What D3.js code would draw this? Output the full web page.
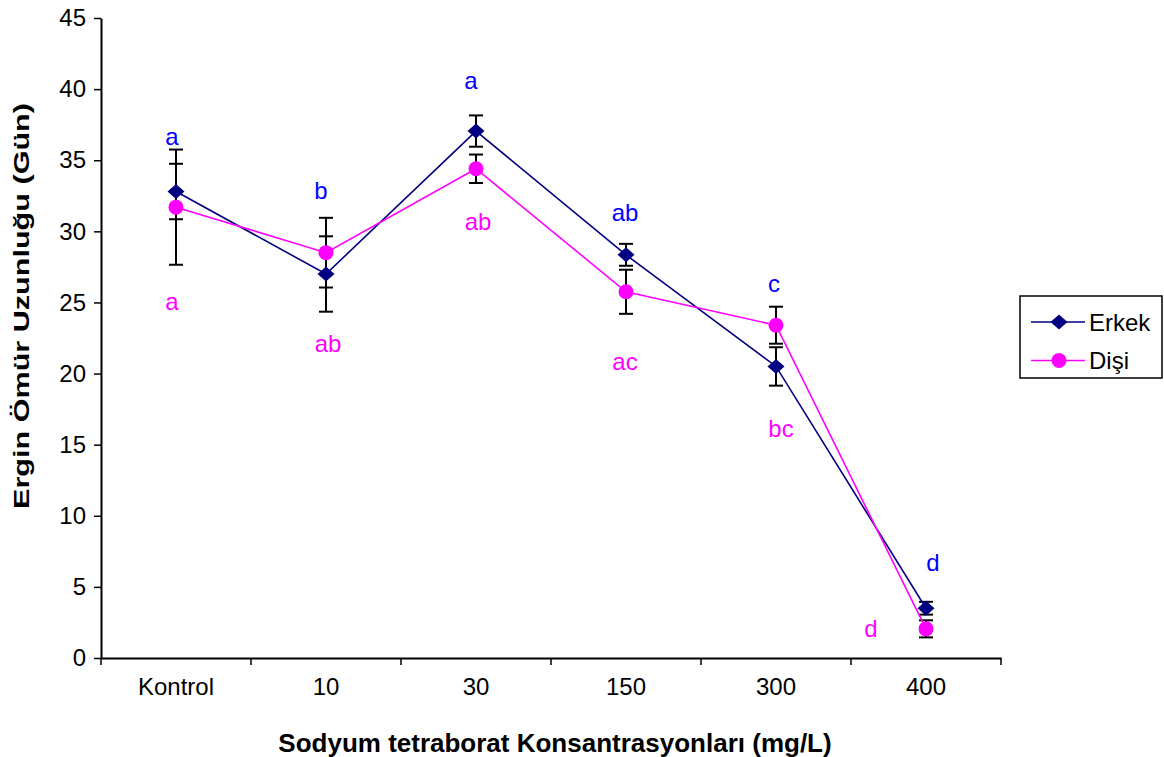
<!DOCTYPE html>
<html>
<head>
<meta charset="utf-8">
<script src="https://cdn.jsdelivr.net/npm/d3@7/dist/d3.min.js"></script>
<style>
  html, body { margin: 0; padding: 0; background: #fff; }
  svg { display: block; font-family: "Liberation Sans", Arial, sans-serif; }
</style>
</head>
<body>
<svg id="chart" width="1164" height="757"></svg>
<script>
// Adult lifespan (days) by sodium tetraborate concentration
const categories = ["Kontrol", "10", "30", "150", "300", "400"];
const erkekMean = [32.8, 27.0, 37.05, 28.35, 20.5, 3.5];
const erkekErr  = [1.95, 2.65, 1.1, 0.77, 1.35, 0.45];
const disiMean  = [31.7, 28.5, 34.4, 25.75, 23.4, 2.05];
const disiErr   = [4.05, 2.45, 1.0, 1.55, 1.3, 0.6];
const yTicks = [0, 5, 10, 15, 20, 25, 30, 35, 40, 45];

// Significance letters for each group
const erkekLetters = ["a", "b", "a", "ab", "c", "d"];
const disiLetters  = ["a", "ab", "ab", "ac", "bc", "d"];

// Letter placement (baseline in axis units, horizontal nudge in px)
const erkekLetterAt = [36.1, 32.3, 40.0, 30.75, 25.7, 6.15];
const erkekLetterDx = [-4, -5, -5, -1, -2, 7];
const disiLetterAt  = [24.45, 21.55, 30.1, 20.25, 15.55, 1.5];
const disiLetterDx  = [-4, 2, 2, -1, 5, -55];

const C_ERKEK = "#000080", C_DISI = "#FF00FF", C_LETTER_E = "#0000FF";

const svg = d3.select("#chart");
svg.append("rect").attr("width", 1164).attr("height", 757).attr("fill", "#fff");

const x = d3.scaleBand().domain(categories).range([101, 1001]);
const y = d3.scaleLinear().domain([0, 45]).range([658, 18]);
const cx = c => x(c) + x.bandwidth() / 2;

// Y axis
const yAxis = svg.append("g").attr("transform", "translate(101,0)")
  .call(d3.axisLeft(y).tickValues(yTicks).tickSize(7).tickSizeOuter(0).tickPadding(8));
yAxis.select(".domain").attr("stroke", "#000").attr("stroke-width", 2);
yAxis.selectAll(".tick line").attr("stroke", "#000").attr("stroke-width", 1.5);
yAxis.selectAll(".tick text").attr("font-size", 24).attr("fill", "#000")
  .attr("font-family", "Liberation Sans, Arial, sans-serif");

// X axis: labels at band centers, tick marks at band edges
const xAxis = svg.append("g").attr("transform", "translate(0,658)")
  .call(d3.axisBottom(x).tickSize(0).tickSizeOuter(0).tickPadding(20));
xAxis.select(".domain").attr("stroke", "#000").attr("stroke-width", 2);
xAxis.selectAll(".tick text").attr("font-size", 24).attr("fill", "#000")
  .attr("font-family", "Liberation Sans, Arial, sans-serif");
const edges = categories.map(c => x(c)).concat([x.range()[1]]);
svg.append("g").selectAll("line").data(edges).join("line")
  .attr("x1", d => d).attr("x2", d => d)
  .attr("y1", 658).attr("y2", 665)
  .attr("stroke", "#000").attr("stroke-width", 1.5);

// Axis titles
svg.append("text")
  .attr("x", 555).attr("y", 752)
  .attr("text-anchor", "middle")
  .attr("font-size", 26).attr("font-weight", "bold")
  .text("Sodyum tetraborat Konsantrasyonları (mg/L)");

svg.append("text")
  .attr("transform", "translate(29,306) rotate(-90)")
  .attr("text-anchor", "middle")
  .attr("font-size", 22).attr("font-weight", "bold")
  .attr("textLength", 406).attr("lengthAdjust", "spacingAndGlyphs")
  .text("Ergin Ömür Uzunluğu (Gün)");

// Series
const series = [
  { name: "Erkek", mean: erkekMean, err: erkekErr, color: C_ERKEK, shape: "diamond" },
  { name: "Dişi",  mean: disiMean,  err: disiErr,  color: C_DISI,  shape: "circle" }
];

// Error bars
const capW = 7;
series.forEach(s => {
  const g = svg.append("g").attr("stroke", "#000").attr("stroke-width", 2);
  categories.forEach((c, i) => {
    const top = y(s.mean[i] + s.err[i]), bot = y(s.mean[i] - s.err[i]);
    g.append("line").attr("x1", cx(c)).attr("x2", cx(c)).attr("y1", top).attr("y2", bot);
    g.append("line").attr("x1", cx(c) - capW).attr("x2", cx(c) + capW).attr("y1", top).attr("y2", top);
    g.append("line").attr("x1", cx(c) - capW).attr("x2", cx(c) + capW).attr("y1", bot).attr("y2", bot);
  });
});

// Lines
const line = d3.line().x((d, i) => cx(categories[i])).y(d => y(d));
series.forEach(s => {
  svg.append("path").datum(s.mean)
    .attr("d", line).attr("fill", "none")
    .attr("stroke", s.color).attr("stroke-width", 1.6);
});

// Markers
const diamondPath = "M0,-7.5L8.5,0L0,7.5L-8.5,0Z";
function drawMarker(g, shape, color) {
  if (shape === "diamond") g.append("path").attr("d", diamondPath).attr("fill", color);
  else g.append("circle").attr("r", 7.5).attr("fill", color);
}
series.forEach(s => {
  s.mean.forEach((v, i) => {
    const g = svg.append("g").attr("transform", `translate(${cx(categories[i])},${y(v)})`);
    drawMarker(g, s.shape, s.color);
  });
});

// Significance letters
svg.append("g").selectAll("text").data(erkekLetters).join("text")
  .attr("x", (d, i) => cx(categories[i]) + erkekLetterDx[i])
  .attr("y", (d, i) => y(erkekLetterAt[i]))
  .attr("text-anchor", "middle").attr("font-size", 24).attr("fill", C_LETTER_E)
  .text(d => d);
svg.append("g").selectAll("text").data(disiLetters).join("text")
  .attr("x", (d, i) => cx(categories[i]) + disiLetterDx[i])
  .attr("y", (d, i) => y(disiLetterAt[i]))
  .attr("text-anchor", "middle").attr("font-size", 24).attr("fill", C_DISI)
  .text(d => d);

// Legend
const legend = svg.append("g");
legend.append("rect").attr("x", 1020).attr("y", 296).attr("width", 142).attr("height", 82)
  .attr("fill", "#fff").attr("stroke", "#000").attr("stroke-width", 1.5);
series.forEach((s, i) => {
  const ly = 322 + i * 38.5;
  legend.append("line").attr("x1", 1031).attr("x2", 1085).attr("y1", ly).attr("y2", ly)
    .attr("stroke", s.color).attr("stroke-width", 1.6);
  drawMarker(legend.append("g").attr("transform", `translate(1059,${ly})`), s.shape, s.color);
  legend.append("text").attr("x", 1089).attr("y", ly + 8.5)
    .attr("font-size", 24).attr("fill", "#000").text(s.name);
});
</script>
</body>
</html>
